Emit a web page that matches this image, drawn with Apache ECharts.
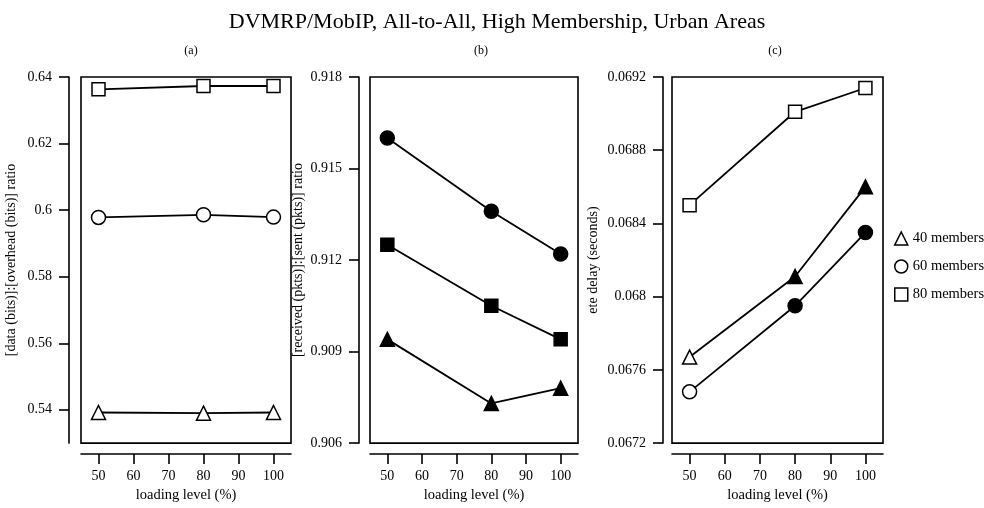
<!DOCTYPE html>
<html>
<head>
<meta charset="utf-8">
<script src="https://cdn.jsdelivr.net/npm/echarts@6/dist/echarts.min.js"></script>
<style>html,body{margin:0;padding:0;background:#fff;}#chart{width:984px;height:508px;}</style>
</head>
<body>
<div id="chart"></div>
<script>
// ---- data ----
const loads = [50, 80, 100];
const xTicks = [50, 60, 70, 80, 90, 100];
const seriesNames = ['40 members', '60 members', '80 members'];
const symbols = ['triangle', 'circle', 'rect'];

const a40 = [0.5392, 0.5390, 0.5392];
const a60 = [0.5978, 0.5986, 0.5979];
const a80 = [0.6363, 0.6373, 0.6373];
const aFill40 = [false, false, false];
const aFill60 = [false, false, false];
const aFill80 = [false, false, false];
const aTicks = [0.54, 0.56, 0.58, 0.60, 0.62, 0.64];

const b40 = [0.9094, 0.9073, 0.9078];
const b60 = [0.9160, 0.9136, 0.9122];
const b80 = [0.9125, 0.9105, 0.9094];
const bFill40 = [true, true, true];
const bFill60 = [true, true, true];
const bFill80 = [true, true, true];
const bTicks = [0.906, 0.909, 0.912, 0.915, 0.918];

const c40 = [0.06767, 0.06811, 0.06860];
const c60 = [0.06748, 0.06795, 0.06835];
const c80 = [0.06850, 0.06901, 0.06914];
const cFill40 = [false, true, true];
const cFill60 = [false, true, true];
const cFill80 = [false, false, false];
const cTicks = [0.0672, 0.0676, 0.068, 0.0684, 0.0688, 0.0692];

const panelTitles = ['(a)', '(b)', '(c)'];
const yNames = ['[data (bits)]:[overhead (bits)] ratio', '[received (pkts)]:[sent (pkts)] ratio', 'ete delay (seconds)'];
const xName = 'loading level (%)';

// ---- layout ----
const FONT = 'Liberation Serif';
const grids = [
  {left: 81, top: 77, width: 210, height: 369},
  {left: 370, top: 77, width: 208, height: 369},
  {left: 672, top: 77, width: 211, height: 369}
];
const yRanges = [[0.53, 0.64], [0.906, 0.918], [0.0672, 0.0692]];
const yTickLists = [aTicks, bTicks, cTicks];
const yOffsets = [12, 11, 9];
const yNameGaps = [51, 54, 63];
const titleX = [186, 476, 770];

const panelData = [
  [[a40, aFill40], [a60, aFill60], [a80, aFill80]],
  [[b40, bFill40], [b60, bFill60], [b80, bFill80]],
  [[c40, cFill40], [c60, cFill60], [c80, cFill80]]
];

const chart = echarts.init(document.getElementById('chart'));

const grid = grids.map(g => Object.assign({show: true, borderColor: '#000', borderWidth: 1.6, backgroundColor: 'transparent'}, g));

const xAxis = grids.map((g, i) => ({
  type: 'value', gridIndex: i, min: 45, max: 105, offset: 11,
  name: xName, nameLocation: 'middle', nameGap: 31,
  nameTextStyle: {fontFamily: FONT, fontSize: 14.5, color: '#000'},
  axisLine: {show: true, onZero: false, lineStyle: {color: '#000', width: 1.6}},
  axisTick: {show: true, length: 10, inside: false, customValues: xTicks, lineStyle: {color: '#000', width: 1.6}},
  axisLabel: {customValues: xTicks, margin: 15, fontFamily: FONT, fontSize: 14, color: '#000'},
  splitLine: {show: false}
}));

const yAxis = grids.map((g, i) => ({
  type: 'value', gridIndex: i, min: yRanges[i][0], max: yRanges[i][1], offset: yOffsets[i],
  name: yNames[i], nameLocation: 'middle', nameGap: yNameGaps[i], nameRotate: 90,
  nameTextStyle: {fontFamily: FONT, fontSize: 14, color: '#000'},
  axisLine: {show: true, lineStyle: {color: '#000', width: 1.6}},
  axisTick: {show: true, length: 10, inside: false, customValues: yTickLists[i], lineStyle: {color: '#000', width: 1.6}},
  axisLabel: {customValues: yTickLists[i], margin: 17, fontFamily: FONT, fontSize: 14, color: '#000'},
  splitLine: {show: false}
}));

const series = [];
panelData.forEach((panel, p) => {
  panel.forEach((pair, s) => {
    const vals = pair[0], fills = pair[1];
    series.push({
      type: 'line', name: seriesNames[s], xAxisIndex: p, yAxisIndex: p,
      symbol: symbols[s], symbolSize: s === 2 ? 13 : 14,
      lineStyle: {color: '#000', width: 1.8},
      data: loads.map((x, k) => ({
        value: [x, vals[k]],
        itemStyle: {color: fills[k] ? '#000' : '#fff', borderColor: '#000', borderWidth: 1.5}
      })),
      itemStyle: {color: '#fff', borderColor: '#000', borderWidth: 1.5},
      animation: false, silent: true, z: 3
    });
  });
});

const title = [{
  text: 'DVMRP/MobIP, All-to-All, High Membership, Urban Areas',
  left: 492, top: 6, textAlign: 'center',
  textStyle: {fontFamily: FONT, fontSize: 22, fontWeight: 'normal', color: '#000'}
}].concat(panelTitles.map((t, i) => ({
  text: t, left: titleX[i], top: 40, textAlign: 'center',
  textStyle: {fontFamily: FONT, fontSize: 12, fontWeight: 'normal', color: '#000'}
})));

chart.setOption({
  animation: false,
  backgroundColor: '#fff',
  title: title,
  legend: {
    orient: 'vertical', left: 889, top: 226, itemWidth: 13, itemHeight: 13, itemGap: 13,
    selectedMode: false,
    textStyle: {fontFamily: FONT, fontSize: 14.5, color: '#000'},
    data: seriesNames.map((n, i) => ({
      name: n, icon: symbols[i],
      itemStyle: {color: '#fff', borderColor: '#000', borderWidth: 1.5}
    }))
  },
  grid: grid,
  xAxis: xAxis,
  yAxis: yAxis,
  series: series
});
</script>
</body>
</html>
